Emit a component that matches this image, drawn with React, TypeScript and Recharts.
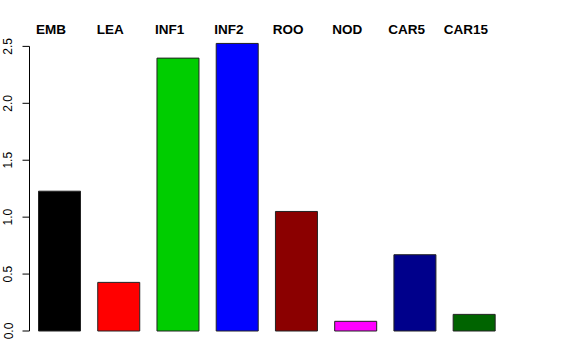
import { Bar, BarChart, Cell, ReferenceLine, XAxis, YAxis } from 'recharts'

const categories = ['EMB', 'LEA', 'INF1', 'INF2', 'ROO', 'NOD', 'CAR5', 'CAR15']
const values = [1.228, 0.427, 2.397, 2.526, 1.05, 0.085, 0.67, 0.146]
const colors = ['#000000', '#FF0000', '#00CD00', '#0000FF', '#8B0000', '#FF00FF', '#00008B', '#006400']
const yTicks = [0, 0.5, 1, 1.5, 2, 2.5]

const FONT = '"Liberation Sans", Arial, Helvetica, sans-serif'

const rows = categories.map((name, i) => ({ name, value: values[i] }))

const CatTick = ({ x, y, payload }: any) => (
  <text x={x - 8} y={y - 1.5} textAnchor="middle" fontFamily={FONT} fontWeight="bold" fontSize={13.5} fill="#000">
    {payload.value}
  </text>
)

const YTick = ({ x, y, payload }: any) => {
  const tx = x - 10
  return (
    <text
      x={tx}
      y={y}
      transform={`rotate(-90, ${tx}, ${y})`}
      textAnchor="middle"
      fontFamily={FONT}
      fontSize={12}
      fill="#000"
    >
      {Number(payload.value).toFixed(1)}
    </text>
  )
}

export default function App() {
  return (
    <div style={{ position: 'absolute', left: 0, top: 0, width: 576, height: 360, background: '#fff' }}>
      <BarChart width={576} height={360} data={rows} margin={{ top: 0, right: 72.6, bottom: 29, left: 0 }}>
        <XAxis
          xAxisId="cat"
          dataKey="name"
          orientation="top"
          height={35}
          axisLine={false}
          tickLine={false}
          tickSize={0}
          tickMargin={0}
          interval={0}
          tick={<CatTick />}
        />
        <XAxis xAxisId="num" type="number" domain={[0, 1]} hide />
        <YAxis
          domain={[0, 2.6]}
          ticks={yTicks}
          width={29.5}
          axisLine={false}
          tickSize={7}
          tickMargin={0}
          tickLine={{ stroke: '#000' }}
          tick={<YTick />}
        />
        <ReferenceLine
          xAxisId="num"
          segment={[
            { x: 0, y: yTicks[0] },
            { x: 0, y: yTicks[yTicks.length - 1] },
          ]}
          stroke="#000"
          ifOverflow="visible"
        />
        <Bar xAxisId="cat" dataKey="value" barSize={42} stroke="#222" strokeWidth={1} isAnimationActive={false}>
          {rows.map((r, i) => (
            <Cell key={r.name} fill={colors[i]} />
          ))}
        </Bar>
      </BarChart>
    </div>
  )
}
